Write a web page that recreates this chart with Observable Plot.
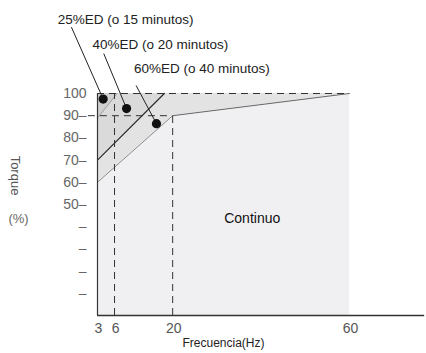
<!DOCTYPE html>
<html>
<head>
<meta charset="utf-8">
<script src="https://cdn.jsdelivr.net/npm/d3@7"></script>
<script src="https://cdn.jsdelivr.net/npm/@observablehq/plot@0.6"></script>
<style>
  html, body { margin: 0; padding: 0; background: #fff; }
  #chart svg { display: block; overflow: visible; }
</style>
</head>
<body>
<div id="chart"></div>
<script>
// ---- data ----
const xTicks = [3, 6, 20, 60];
const xTickLabels = ["3", "6", "20", "60"];
const yTickValues = [10, 20, 30, 40, 50, 60, 70, 80, 90, 100];
const yTickLabels = ["–", "–", "–", "–", "50–", "60–", "70–", "80–", "90–", "100"];
const xTitle = "Frecuencia(Hz)";
const yTitle = "Torque";
const yUnit = "(%)";
const regionLabel = "Continuo";

// ED annotations
const edLabels = ["25%ED (o 15 minutos)", "40%ED (o 20 minutos)", "60%ED (o 40 minutos)"];
const edLabelX = [-4.0, 2.1, 10.7];
const edLabelY = [133.3, 122, 111.3];
const edLeaderX = [-1.6, 4.1, 11.2];
const edLeaderY = [129.9, 118, 103.6];
const edDotX = [4.0, 8.9, 16.1];
const edDotY = [97.5, 93.2, 86.4];

// boundary curves (frequency, torque)
const topX = [3, 60], topY = [100, 100];
const ed25X = [3, 6.6, 60], ed25Y = [89, 100, 100];
const ed40X = [3, 18, 60], ed40Y = [70, 100, 100];
const contX = [3, 20, 60], contY = [60, 90, 100];

// schematic (non-uniform) frequency axis: tick positions as drawn
const axisBreaks = [3, 6, 20, 60];
const axisDrawnAt = [3, 6.85, 20, 60];

// ---- build ----
const warp = d3.scaleLinear().domain(axisBreaks).range(axisDrawnAt);
const pts = (xs, ys) => xs.map((x, i) => ({x, y: ys[i]}));
const labelMap = new Map(yTickValues.map((v, i) => [v, yTickLabels[i]]));
const xLabelMap = new Map(xTicks.map((v, i) => [v, xTickLabels[i]]));
const annots = edLabels.map((t, i) => ({
  t, lx: edLabelX[i], ly: edLabelY[i], ax: edLeaderX[i], ay: edLeaderY[i], dx: edDotX[i], dy: edDotY[i]
}));

const font = "'Liberation Sans', Arial, sans-serif";

const chart = Plot.plot({
  width: 426,
  height: 353,
  marginTop: 93,
  marginBottom: 38,
  marginLeft: 97,
  marginRight: 77,
  style: {fontFamily: font, background: "transparent"},
  x: {domain: [3, 60], transform: d => warp(d)},
  y: {domain: [0, 100]},
  marks: [
    // layered regions
    Plot.areaY(pts(topX, topY), {x: "x", y1: 0, y2: "y", fill: "#d0d0d0"}),
    Plot.areaY(pts(ed25X, ed25Y), {x: "x", y1: 0, y2: "y", fill: "#dadada"}),
    Plot.areaY(pts(ed40X, ed40Y), {x: "x", y1: 0, y2: "y", fill: "#e3e3e3"}),
    Plot.areaY(pts(contX, contY), {x: "x", y1: 0, y2: "y", fill: "#f0f0f2"}),
    // boundary lines
    Plot.line(pts(ed25X.slice(0, 2), ed25Y.slice(0, 2)), {x: "x", y: "y", stroke: "#9a9a9a", strokeWidth: 1}),
    Plot.line(pts(ed40X.slice(0, 2), ed40Y.slice(0, 2)), {x: "x", y: "y", stroke: "#2a2a2a", strokeWidth: 1.2}),
    Plot.line(pts(contX.slice(0, 2), contY.slice(0, 2)), {x: "x", y: "y", stroke: "#8a8a8a", strokeWidth: 1}),
    Plot.line(pts(contX.slice(1), contY.slice(1)), {x: "x", y: "y", stroke: "#666", strokeWidth: 1}),
    // dashed guides
    Plot.ruleY([100], {x1: 3, x2: 60, stroke: "#333", strokeDasharray: "7,5"}),
    Plot.ruleY([90], {x1: 1.4, x2: 20, stroke: "#333", strokeDasharray: "7,5"}),
    Plot.ruleX([6], {y1: 0, y2: 100, stroke: "#333", strokeDasharray: "7,5"}),
    Plot.ruleX([20], {y1: 0, y2: 90, stroke: "#333", strokeDasharray: "7,5"}),
    // axis lines
    Plot.ruleX([3], {y1: 0, y2: 100, stroke: "#333", strokeWidth: 1.2}),
    Plot.ruleY([0], {x1: 3, x2: 77, stroke: "#333", strokeWidth: 1.5}),
    // axes
    Plot.axisX(xTicks, {tickSize: 0, tickPadding: 8, dx: 1, fontSize: 14, fill: "#555", label: null,
      tickFormat: d => xLabelMap.get(d) ?? ""}),
    Plot.axisY(yTickValues, {tickSize: 0, tickPadding: 0, dx: -11, fontSize: 14, fill: "#666", label: null,
      tickFormat: d => labelMap.get(d)}),
    // titles
    Plot.text([xTitle], {frameAnchor: "bottom", dy: 31, fontSize: 12, fill: "#222", textAnchor: "middle", text: d => d}),
    Plot.text([yTitle], {frameAnchor: "left", dx: -82, dy: -29, rotate: 90, textAnchor: "middle", fontSize: 13, fill: "#555", text: d => d}),
    Plot.text([yUnit], {frameAnchor: "left", dx: -79, dy: 14, textAnchor: "middle", fontSize: 13, fill: "#666", text: d => d}),
    // region label
    Plot.text([regionLabel], {x: () => 38, y: () => 43.7, fontSize: 14, fill: "#111", text: d => d}),
    // ED annotations
    Plot.link(annots, {x1: "ax", y1: "ay", x2: "dx", y2: "dy", stroke: "#222", strokeWidth: 1}),
    Plot.dot(annots, {x: "dx", y: "dy", r: 4.6, fill: "#111", stroke: "none"}),
    Plot.text(annots, {x: "lx", y: "ly", text: "t", textAnchor: "start", fontSize: 13.5, fill: "#222"})
  ]
});

document.getElementById("chart").appendChild(chart);
</script>
</body>
</html>
